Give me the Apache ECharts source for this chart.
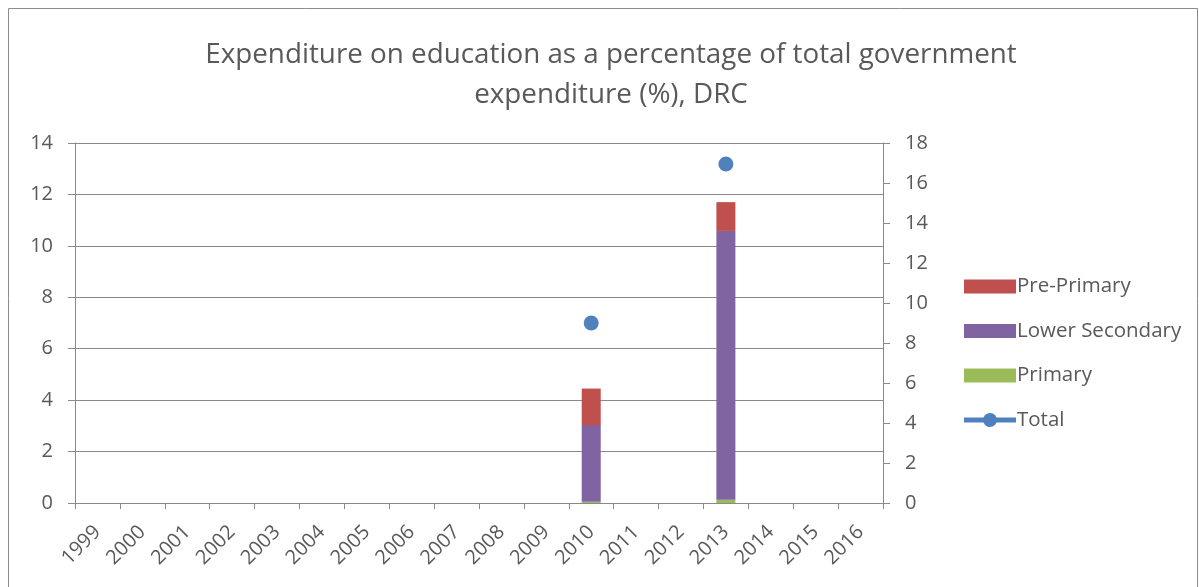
<!DOCTYPE html>
<html><head><meta charset="utf-8">
<script src="https://cdn.jsdelivr.net/npm/echarts@6/dist/echarts.min.js"></script>
<style>html,body{margin:0;padding:0;background:#fff}#c{width:1199px;height:587px}</style>
</head><body><div id="c"></div>
<script>
var years = ['1999','2000','2001','2002','2003','2004','2005','2006','2007','2008','2009','2010','2011','2012','2013','2014','2015','2016'];
var primary        = [null,null,null,null,null,null,null,null,null,null,null,0.05,null,null,0.13,null,null,null];
var lowerSecondary = [null,null,null,null,null,null,null,null,null,null,null,2.98,null,null,10.45,null,null,null];
var prePrimary     = [null,null,null,null,null,null,null,null,null,null,null,1.42,null,null,1.12,null,null,null];
var total          = [null,null,null,null,null,null,null,null,null,null,null,9.0,null,null,16.95,null,null,null];
var leftTicks = {min:0,max:14,interval:2};
var rightTicks = {min:0,max:18,interval:2};

var font = '"Open Sans", "Liberation Sans", sans-serif';
var txt = '#595959';
var gridC = '#898989';
var lineIcon = 'path://M19.46,4.5 L0,4.5 L0,9.5 L19.46,9.5 A7,7 0 0 0 32.54,9.5 L52,9.5 L52,4.5 L32.54,4.5 A7,7 0 0 0 19.46,4.5 Z';
var chart = echarts.init(document.getElementById('c'));
chart.setOption({
  animation:false,
  backgroundColor:'#fff',
  graphic:[{type:'rect',shape:{x:8.5,y:8.5,width:1189,height:590},style:{fill:'none',stroke:'#8c8c8c',lineWidth:1}}],
  title:{text:'Expenditure on education as a percentage of total government\nexpenditure (%), DRC',left:606,textAlign:'center',top:30,
    textStyle:{fontFamily:font,fontSize:27.8,fontWeight:'normal',color:txt,lineHeight:40}},
  legend:{orient:'vertical',left:959,top:271,itemGap:23.5,itemWidth:52,itemHeight:14,
    data:[{name:'Pre-Primary',icon:'rect'},{name:'Lower Secondary',icon:'rect'},{name:'Primary',icon:'rect'},
          {name:'Total',icon:lineIcon}],
    textStyle:{fontFamily:font,fontSize:20.5,color:txt,padding:[0,0,0,-4]}},
  grid:{left:75,right:316,top:143,bottom:84},
  xAxis:{type:'category',data:years,boundaryGap:true,
    axisLine:{lineStyle:{color:gridC,width:1}},
    axisTick:{show:true,length:6,lineStyle:{color:gridC}},
    axisLabel:{rotate:45,fontFamily:font,fontSize:20,color:txt,margin:26,interval:0}},
  yAxis:[
    {type:'value',min:leftTicks.min,max:leftTicks.max,interval:leftTicks.interval,position:'left',
     axisLine:{show:true,lineStyle:{color:gridC}},axisTick:{show:true,length:7,lineStyle:{color:gridC}},
     splitLine:{lineStyle:{color:gridC,width:1}},
     axisLabel:{fontFamily:font,fontSize:20,color:txt,margin:22}},
    {type:'value',min:rightTicks.min,max:rightTicks.max,interval:rightTicks.interval,position:'right',
     axisLine:{show:true,lineStyle:{color:gridC}},axisTick:{show:true,length:7,lineStyle:{color:gridC}},
     splitLine:{show:false},
     axisLabel:{fontFamily:font,fontSize:20,color:txt,margin:22}}
  ],
  series:[
    {name:'Primary',type:'bar',stack:'s',data:primary,barWidth:19,itemStyle:{color:'#9BBB59'}},
    {name:'Lower Secondary',type:'bar',stack:'s',data:lowerSecondary,barWidth:19,itemStyle:{color:'#8064A2'}},
    {name:'Pre-Primary',type:'bar',stack:'s',data:prePrimary,barWidth:19,itemStyle:{color:'#C0504D'}},
    {name:'Total',type:'line',yAxisIndex:1,data:total,symbol:'circle',symbolSize:15,connectNulls:false,
     itemStyle:{color:'#4F81BD'},lineStyle:{color:'#4F81BD',width:5}}
  ]
});
</script></body></html>
